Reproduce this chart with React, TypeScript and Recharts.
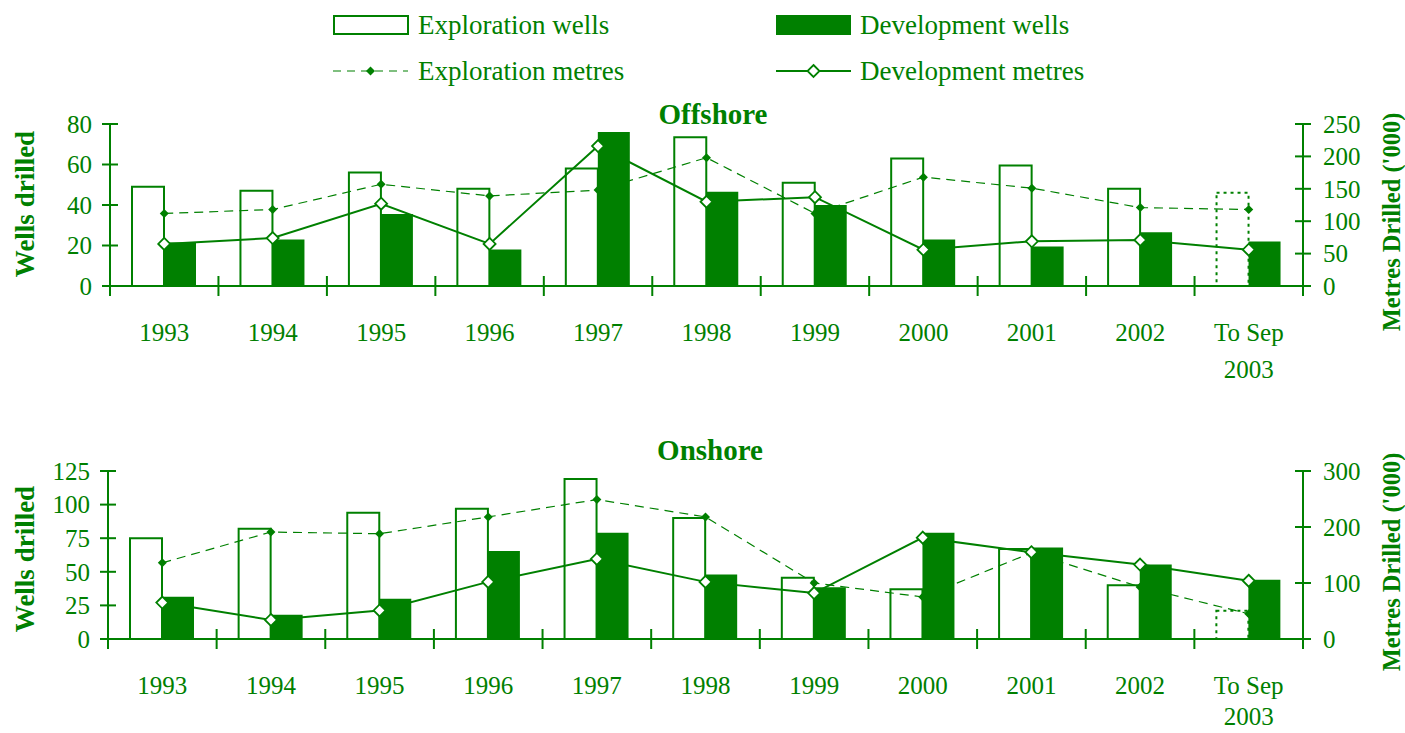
import React from "react"
import { Bar, Cell, ComposedChart, Line, XAxis, YAxis } from "recharts"

const GREEN = "#008000"
const FONT = "'Liberation Serif', 'Times New Roman', serif"

const categories = ["1993", "1994", "1995", "1996", "1997", "1998", "1999", "2000", "2001", "2002", "To Sep\n2003"]

// Offshore
const offExplWells = [49, 47, 56, 48, 58, 73.5, 51, 63, 59.5, 48, 46]
const offDevWells = [21.5, 23, 35.5, 18, 76, 46.5, 40, 23, 19.5, 26.5, 22]
const offExplMetres = [112, 118, 157, 139, 148, 198, 112, 168, 151, 121, 118]
const offDevMetres = [65, 74, 127, 65, 216, 130, 137, 56, 69, 71, 56]

// Onshore
const onExplWells = [75, 82, 94, 97, 119, 90, 45.5, 37, 67, 40, 21]
const onDevWells = [31.5, 18, 30, 65.5, 79, 48, 38.5, 79, 68, 55.5, 44]
const onExplMetres = [136, 191, 188, 218, 249, 218, 100, 75, 154, 93, 45]
const onDevMetres = [65, 34, 51, 102, 143, 102, 82, 181, 155, 133, 104]

const offLeftTicks = [0, 20, 40, 60, 80]
const offRightTicks = [0, 50, 100, 150, 200, 250]
const onLeftTicks = [0, 25, 50, 75, 100, 125]
const onRightTicks = [0, 100, 200, 300]

function buildRows(ew: number[], dw: number[], em: number[], dm: number[]) {
  return categories.map((cat, i) => ({ cat, ew: ew[i], dw: dw[i], em: em[i], dm: dm[i] }))
}

const offRows = buildRows(offExplWells, offDevWells, offExplMetres, offDevMetres)
const onRows = buildRows(onExplWells, onDevWells, onExplMetres, onDevMetres)

const XTick = (props: any) => {
  const { x, y, payload, index, band, lineGap } = props
  const lines = String(payload.value).split("\n")
  return (
    <g>
      {index > 0 && (
        <line x1={x - band / 2} x2={x - band / 2} y1={y - 10} y2={y + 10} stroke={GREEN} strokeWidth={2} />
      )}
      <text x={x} y={y + 46} textAnchor="middle" fill={GREEN} fontFamily={FONT} fontSize={25}>
        {lines.map((l, i) => (
          <tspan key={i} x={x} dy={i === 0 ? "0.35em" : lineGap}>
            {l}
          </tspan>
        ))}
      </text>
    </g>
  )
}

const YTick = (props: any) => {
  const { x, y, payload, side } = props
  const left = side === "left"
  return (
    <g>
      <line x1={x - 8} x2={x + 8} y1={y} y2={y} stroke={GREEN} strokeWidth={2} />
      {payload.value === 0 && <line x1={x} x2={x} y1={y} y2={y + 10} stroke={GREEN} strokeWidth={2} />}
      <text
        x={left ? x - 18 : x + 20}
        y={y}
        dy="0.35em"
        textAnchor={left ? "end" : "start"}
        fill={GREEN}
        fontFamily={FONT}
        fontSize={25}
      >
        {payload.value}
      </text>
    </g>
  )
}

const smallDiamond = (props: any) => {
  const { cx, cy, index } = props
  const r = 4.5
  return <path key={`sd-${index}`} d={`M${cx},${cy - r}L${cx + r},${cy}L${cx},${cy + r}L${cx - r},${cy}Z`} fill={GREEN} />
}

const hollowDiamond = (props: any) => {
  const { cx, cy, index } = props
  const r = 6
  return (
    <path
      key={`hd-${index}`}
      d={`M${cx},${cy - r}L${cx + r},${cy}L${cx},${cy + r}L${cx - r},${cy}Z`}
      fill="#fff"
      stroke={GREEN}
      strokeWidth={1.8}
    />
  )
}

function WellsChart(props: {
  rows: any[]
  top: number
  height: number
  marginTop: number
  xHeight: number
  leftWidth: number
  leftMax: number
  rightMax: number
  leftTicks: number[]
  rightTicks: number[]
  lineGap: number
}) {
  const { rows, top, height, marginTop, xHeight, leftWidth, leftMax, rightMax, leftTicks, rightTicks, lineGap } = props
  const width = 1405
  const rightWidth = 102
  const band = (width - leftWidth - rightWidth) / categories.length
  return (
    <div style={{ position: "absolute", left: 0, top, width, height }}>
      <ComposedChart
        width={width}
        height={height}
        data={rows}
        margin={{ top: marginTop, right: 0, bottom: 0, left: 0 }}
        barGap={0}
      >
        <XAxis
          dataKey="cat"
          height={xHeight}
          interval={0}
          tickLine={false}
          tickSize={0}
          tickMargin={0}
          axisLine={{ stroke: GREEN, strokeWidth: 2 }}
          tick={(p: any) => <XTick {...p} band={band} lineGap={lineGap} />}
        />
        <YAxis
          yAxisId="left"
          orientation="left"
          width={leftWidth}
          domain={[0, leftMax]}
          ticks={leftTicks}
          interval={0}
          tickLine={false}
          tickSize={0}
          tickMargin={0}
          axisLine={{ stroke: GREEN, strokeWidth: 2 }}
          tick={(p: any) => <YTick {...p} side="left" />}
        />
        <YAxis
          yAxisId="right"
          orientation="right"
          width={rightWidth}
          domain={[0, rightMax]}
          ticks={rightTicks}
          interval={0}
          tickLine={false}
          tickSize={0}
          tickMargin={0}
          axisLine={{ stroke: GREEN, strokeWidth: 2 }}
          tick={(p: any) => <YTick {...p} side="right" />}
        />
        <Bar yAxisId="left" dataKey="ew" barSize={32} fill="#fff" stroke={GREEN} strokeWidth={2} isAnimationActive={false}>
          {rows.map((_, i) => (
            <Cell key={i} strokeDasharray={i === rows.length - 1 ? "3 4" : undefined} />
          ))}
        </Bar>
        <Bar yAxisId="left" dataKey="dw" barSize={32} fill={GREEN} isAnimationActive={false} />
        <Line
          yAxisId="right"
          dataKey="em"
          type="linear"
          stroke={GREEN}
          strokeWidth={1.2}
          strokeDasharray="9 6"
          dot={smallDiamond}
          activeDot={false}
          isAnimationActive={false}
        />
        <Line
          yAxisId="right"
          dataKey="dm"
          type="linear"
          stroke={GREEN}
          strokeWidth={2}
          dot={hollowDiamond}
          activeDot={false}
          isAnimationActive={false}
        />
      </ComposedChart>
    </div>
  )
}

function Overlay() {
  const txt = { fill: GREEN, fontFamily: FONT }
  return (
    <svg width={1405} height={733} style={{ position: "absolute", left: 0, top: 0, pointerEvents: "none" }}>
      {/* legend */}
      <rect x={334} y={16} width={74} height={18} fill="#fff" stroke={GREEN} strokeWidth={2} />
      <text x={418} y={25} dy="0.35em" fontSize={27} {...txt}>Exploration wells</text>
      <rect x={776} y={15} width={75} height={20} fill={GREEN} />
      <text x={860} y={25} dy="0.35em" fontSize={27} {...txt}>Development wells</text>
      <line x1={333} x2={408} y1={71} y2={71} stroke={GREEN} strokeWidth={1.2} strokeDasharray="8 6" />
      <path d="M370.5,66.5L375,71L370.5,75.5L366,71Z" fill={GREEN} />
      <text x={418} y={71} dy="0.35em" fontSize={27} {...txt}>Exploration metres</text>
      <line x1={776} x2={851} y1={71} y2={71} stroke={GREEN} strokeWidth={2} />
      <path d="M813.5,65L819.5,71L813.5,77L807.5,71Z" fill="#fff" stroke={GREEN} strokeWidth={1.8} />
      <text x={860} y={71} dy="0.35em" fontSize={27} {...txt}>Development metres</text>

      {/* titles */}
      <text x={713} y={114} dy="0.35em" textAnchor="middle" fontSize={29} fontWeight="bold" {...txt}>Offshore</text>
      <text x={710} y={450} dy="0.35em" textAnchor="middle" fontSize={29} fontWeight="bold" {...txt}>Onshore</text>

      {/* axis titles */}
      <text transform="translate(25,204) rotate(-90)" dy="0.35em" textAnchor="middle" fontSize={27} fontWeight="bold" {...txt}>Wells drilled</text>
      <text transform="translate(25,559) rotate(-90)" dy="0.35em" textAnchor="middle" fontSize={27} fontWeight="bold" {...txt}>Wells drilled</text>
      <text transform="translate(1391,222) rotate(-90)" dy="0.35em" textAnchor="middle" fontSize={24.5} fontWeight="bold" {...txt}>Metres Drilled ('000)</text>
      <text transform="translate(1391,562) rotate(-90)" dy="0.35em" textAnchor="middle" fontSize={24.5} fontWeight="bold" {...txt}>Metres Drilled ('000)</text>
    </svg>
  )
}

export default function App() {
  return (
    <div style={{ position: "absolute", left: 0, top: 0, width: 1405, height: 733, background: "#fff" }}>
      <WellsChart
        rows={offRows}
        top={95}
        height={300}
        marginTop={29}
        xHeight={109}
        leftWidth={110}
        leftMax={80}
        rightMax={250}
        leftTicks={offLeftTicks}
        rightTicks={offRightTicks}
        lineGap={37}
      />
      <WellsChart
        rows={onRows}
        top={400}
        height={333}
        marginTop={71}
        xHeight={94}
        leftWidth={108}
        leftMax={125}
        rightMax={300}
        leftTicks={onLeftTicks}
        rightTicks={onRightTicks}
        lineGap={31}
      />
      <Overlay />
    </div>
  )
}
